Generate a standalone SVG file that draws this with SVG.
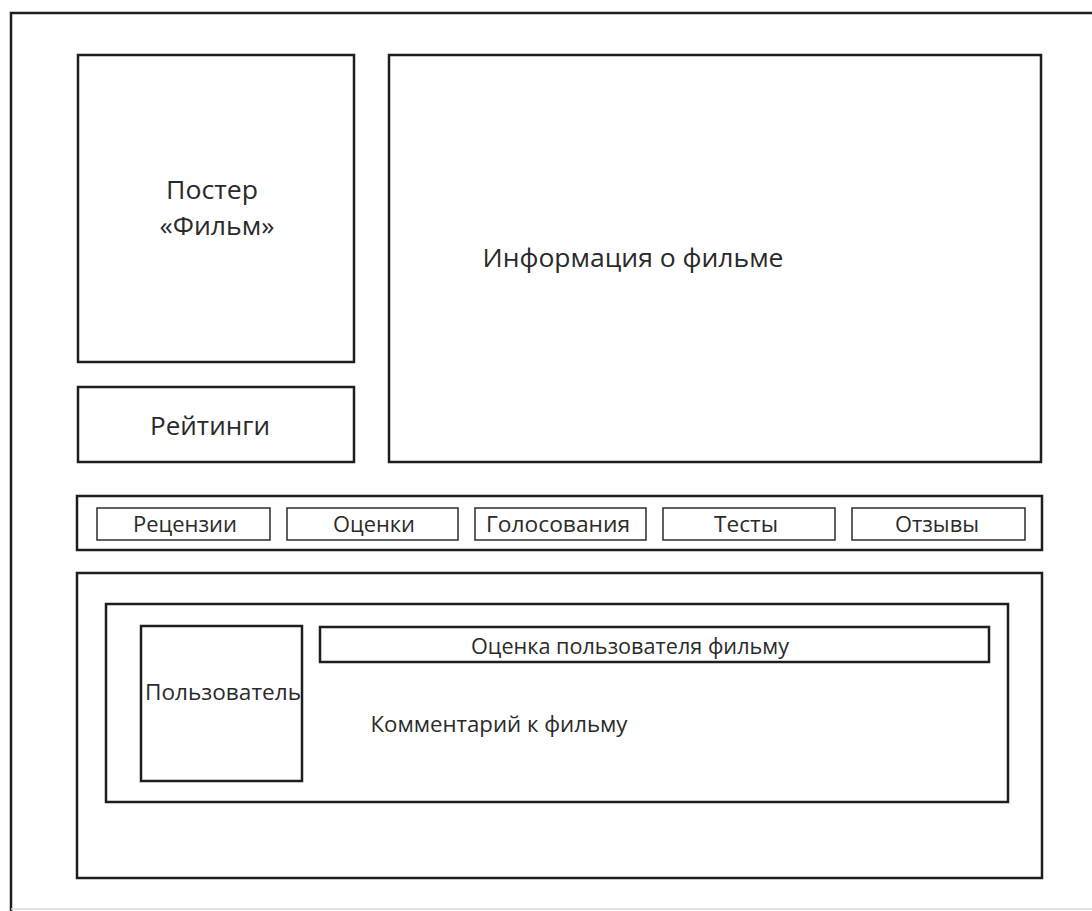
<svg xmlns="http://www.w3.org/2000/svg" width="1092" height="911" viewBox="0 0 1092 911">
  <style>
    .box { fill: none; stroke: #1e1e1e; stroke-width: 2.5; }
    .tab { fill: none; stroke: #3a3a3a; stroke-width: 1.6; }
    .lbl { font-family: "Open Sans", "Liberation Sans", sans-serif; fill: #2a2a2a; text-anchor: middle; }
    .big { font-size: 26px; }
    .mid { font-size: 21px; }
  </style>
  <rect width="1092" height="911" fill="#ffffff"/>

  <!-- page frame -->
  <g id="frame">
    <path d="M11 911 V13 H1092" fill="none" stroke="#1e1e1e" stroke-width="2.5"/>
    <line x1="11" y1="909" x2="1092" y2="909" stroke="#d8d8d8" stroke-width="1.5"/>
  </g>

  <g id="poster">
    <rect class="box" x="78" y="55" width="276" height="307"/>
    <text class="lbl big" x="212" y="199" textLength="92" lengthAdjust="spacingAndGlyphs">Постер</text>
    <text class="lbl big" x="217" y="235" textLength="115" lengthAdjust="spacingAndGlyphs">«Фильм»</text>
  </g>

  <g id="ratings">
    <rect class="box" x="78" y="387" width="276" height="75"/>
    <text class="lbl big" x="210" y="435" textLength="120" lengthAdjust="spacingAndGlyphs">Рейтинги</text>
  </g>

  <g id="info">
    <rect class="box" x="389" y="55" width="652" height="407"/>
    <text class="lbl big" x="633" y="267" textLength="301" lengthAdjust="spacingAndGlyphs">Информация о фильме</text>
  </g>

  <g id="tabs">
    <rect class="box" x="77" y="496" width="965" height="54"/>
    <g id="tab-reviews">
      <rect class="tab" x="97" y="508" width="173" height="32"/>
      <text class="lbl mid" x="185" y="532" textLength="104" lengthAdjust="spacingAndGlyphs">Рецензии</text>
    </g>
    <g id="tab-scores">
      <rect class="tab" x="287" y="508" width="171" height="32"/>
      <text class="lbl mid" x="374" y="532" textLength="82" lengthAdjust="spacingAndGlyphs">Оценки</text>
    </g>
    <g id="tab-votes">
      <rect class="tab" x="475" y="508" width="171" height="32"/>
      <text class="lbl mid" x="558" y="532" textLength="144" lengthAdjust="spacingAndGlyphs">Голосования</text>
    </g>
    <g id="tab-tests">
      <rect class="tab" x="663" y="508" width="172" height="32"/>
      <text class="lbl mid" x="746" y="532" textLength="64" lengthAdjust="spacingAndGlyphs">Тесты</text>
    </g>
    <g id="tab-feedback">
      <rect class="tab" x="852" y="508" width="173" height="32"/>
      <text class="lbl mid" x="937" y="532" textLength="84" lengthAdjust="spacingAndGlyphs">Отзывы</text>
    </g>
  </g>

  <g id="comments">
    <rect class="box" x="77" y="573" width="965" height="305"/>
  </g>

  <g id="comment">
    <rect class="box" x="106" y="604" width="902" height="198"/>
  </g>

  <g id="user">
    <rect class="box" x="141" y="626" width="161" height="155"/>
    <text class="lbl mid" x="223" y="700" textLength="156" lengthAdjust="spacingAndGlyphs">Пользователь</text>
  </g>

  <g id="user-score">
    <rect class="box" x="320" y="627" width="669" height="35"/>
    <text class="lbl mid" x="630" y="654" textLength="318" lengthAdjust="spacingAndGlyphs">Оценка пользователя фильму</text>
  </g>

  <g id="comment-text">
    <text class="lbl" x="499" y="732" font-size="22" textLength="257" lengthAdjust="spacingAndGlyphs">Комментарий к фильму</text>
  </g>
</svg>
